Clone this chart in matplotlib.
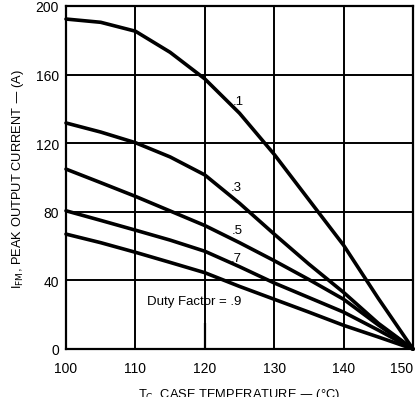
import matplotlib
matplotlib.use("Agg")
import matplotlib.pyplot as plt
from matplotlib.patches import Rectangle

plt.rcParams['font.family'] = ['Liberation Sans', 'DejaVu Sans']

temps = [100, 105, 110, 115, 120, 125, 130, 135, 140, 145, 150]
duty_01 = [192.4, 190.5, 185.3, 173.0, 157.5, 137.5, 113.5, 87.0, 60.5, 29.5, 0.0]
duty_03 = [131.8, 126.5, 120.3, 112.0, 101.5, 85.0, 67.0, 49.5, 33.0, 15.0, 0.0]
duty_05 = [104.9, 97.0, 89.0, 80.5, 72.0, 62.0, 51.5, 40.5, 29.0, 14.0, 0.0]
duty_07 = [80.6, 75.0, 69.3, 63.5, 57.0, 48.0, 38.5, 30.0, 21.5, 11.0, 0.0]
duty_09 = [67.0, 62.0, 56.4, 50.5, 44.5, 36.5, 29.0, 21.5, 13.8, 7.0, 0.0]
series = [duty_01, duty_03, duty_05, duty_07, duty_09]

curve_labels = [".1", ".3", ".5", ".7", "Duty Factor = .9"]
label_pos = [(124.8, 144.7), (124.6, 94.3), (124.7, 69.6), (124.6, 53.0), (118.4, 28.2)]

xticks = [100, 110, 120, 130, 140, 150]
yticks = [0, 40, 80, 120, 160, 200]
stub_x, stub_top = 120, 15

fig = plt.figure(figsize=(4.15, 4.06), dpi=100)
ax = fig.add_axes([66/415, 56/406, 347/415, 343/406])
ax.set_xlim(100, 150)
ax.set_ylim(0, 200)

for v in xticks[1:]:
    ax.axvline(v, color='black', lw=1.4, zorder=1)
for v in yticks[1:]:
    ax.axhline(v, color='black', lw=1.4, zorder=1)
ax.vlines(stub_x, 0, stub_top, color='black', lw=1.6)

for s in series:
    ax.plot(temps, s, color='black', lw=2.6, solid_joinstyle='round', solid_capstyle='round', zorder=3, clip_on=False)

for t, (x, y) in zip(curve_labels, label_pos):
    ax.text(x, y, t, fontsize=9.5, ha='center', va='center', zorder=4)

for sp in ax.spines.values():
    sp.set_linewidth(1.6)
ax.set_xticks(xticks)
ax.set_yticks(yticks)
ax.tick_params(length=0, labelsize=10)
ax.tick_params(axis='x', pad=9)
ax.tick_params(axis='y', pad=5)
lbls = ax.get_xticklabels()
lbls[-1].set_horizontalalignment('right')

ax.set_ylabel("I$_{\\mathrm{FM}}$, PEAK OUTPUT CURRENT — (A)", fontsize=9.3, labelpad=7)
fig.text(239.5/415, 1 - 387/406, "T$_{\\mathrm{C}}$, CASE TEMPERATURE — (°C)", fontsize=9.3,
         ha='center', va='top')
fig.patches.append(Rectangle((0, 0), 1, 8/406, transform=fig.transFigure,
                             facecolor='white', edgecolor='none', zorder=10))

fig.savefig("out.png", dpi=100)
